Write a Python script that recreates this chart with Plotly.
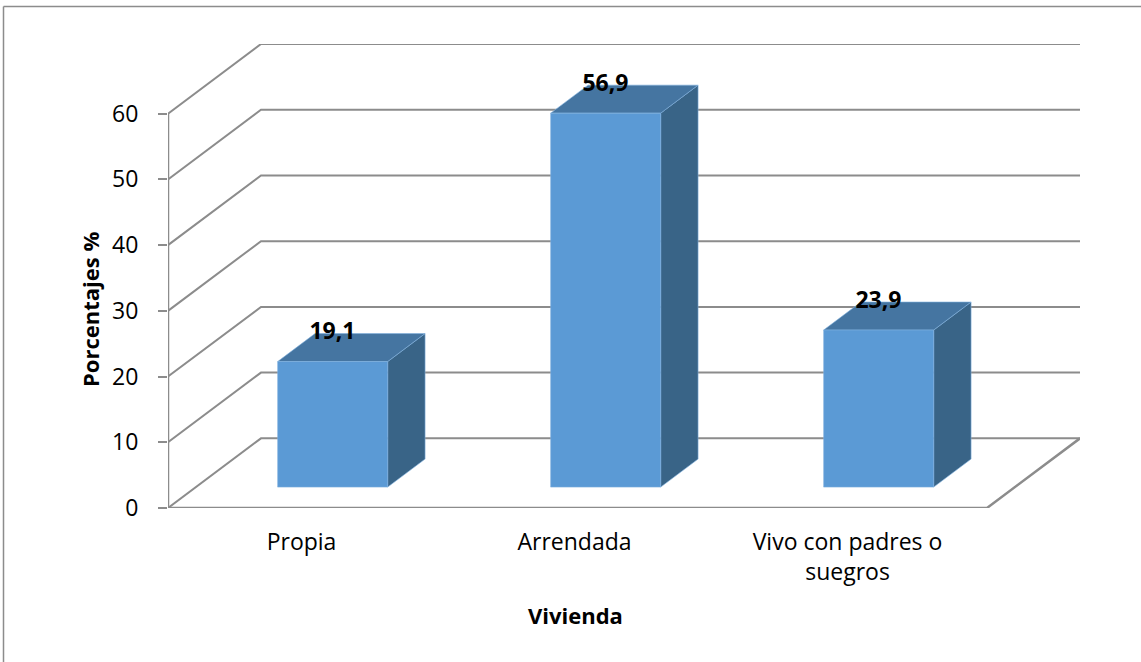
import plotly.graph_objects as go

categories = ["Propia", "Arrendada", "Vivo con padres o<br>suegros"]
values = [19.1, 56.9, 23.9]
value_labels = ["19,1", "56,9", "23,9"]
y_ticks = [0, 10, 20, 30, 40, 50, 60]
y_title = "Porcentajes %"
x_title = "Vivienda"

FONT = "Open Sans"
GRID = "#8c8c8c"
FRONT, TOP, SIDE = "#5B9AD5", "#4575A1", "#396487"

# oblique projection of the depth axis, in axis units per full depth
DEPTH_X = 93 / 273
DEPTH_Y = 10.6
BAR_W = 0.403
BAR_SHIFT = 0.001
Z0, Z1 = 0.30, 0.702
X_LEFT, X_RIGHT = -0.5, 2.5


def proj(x, y, z):
    return x + z * DEPTH_X, y + z * DEPTH_Y


def poly(points, color):
    xs, ys = zip(*points)
    return go.Scatter(x=list(xs) + [xs[0]], y=list(ys) + [ys[0]], mode="lines", fill="toself",
                      fillcolor=color, line=dict(color="#7fb0dd", width=0.6),
                      hoverinfo="skip", showlegend=False, cliponaxis=False)


def wire(points, width=2):
    xs, ys = zip(*points)
    return go.Scatter(x=list(xs), y=list(ys), mode="lines", line=dict(color=GRID, width=width),
                      hoverinfo="skip", showlegend=False, cliponaxis=False)


fig = go.Figure()

for t in y_ticks:
    fig.add_trace(wire([proj(X_LEFT, t, 0), proj(X_LEFT, t, 1), proj(X_RIGHT, t, 1)]))
fig.add_trace(wire([proj(X_LEFT, 0, 0), proj(X_LEFT, y_ticks[-1], 0)], 2.5))
fig.add_trace(wire([proj(X_LEFT, 0, 0), proj(X_RIGHT, 0, 0), proj(X_RIGHT, 0, 1)], 2.5))

for i, v in enumerate(values):
    a = i - BAR_W / 2 + BAR_SHIFT
    b = i + BAR_W / 2 + BAR_SHIFT
    fig.add_trace(poly([proj(b, 0, Z0), proj(b, 0, Z1), proj(b, v, Z1), proj(b, v, Z0)], SIDE))
    fig.add_trace(poly([proj(a, v, Z0), proj(b, v, Z0), proj(b, v, Z1), proj(a, v, Z1)], TOP))
    fig.add_trace(poly([proj(a, 0, Z0), proj(b, 0, Z0), proj(b, v, Z0), proj(a, v, Z0)], FRONT))

lx = [proj(i, v, Z0)[0] for i, v in enumerate(values)]
ly = [proj(i, v, Z1)[1] for i, v in enumerate(values)]
fig.add_trace(go.Scatter(x=lx, y=ly, mode="text", text=value_labels,
                         textposition="middle center", cliponaxis=False,
                         textfont=dict(family=FONT, size=23, color="black", weight="bold"),
                         hoverinfo="skip", showlegend=False))

fig.update_layout(
    width=1141, height=662, autosize=False,
    margin=dict(l=168, r=61, t=44, b=154, pad=0),
    paper_bgcolor="white", plot_bgcolor="white", showlegend=False,
    font=dict(family=FONT, color="black"),
    xaxis=dict(range=[X_LEFT, X_RIGHT + DEPTH_X], tickmode="array", tickvals=[0, 1, 2], ticktext=categories,
               showgrid=False, zeroline=False, showline=False, ticks="outside", ticklen=13,
               tickcolor="rgba(0,0,0,0)", tickfont=dict(size=23, family=FONT), ticklabelshift=-3),
    yaxis=dict(range=[0, y_ticks[-1] + DEPTH_Y], tickmode="array", tickvals=y_ticks,
               showgrid=False, zeroline=False, showline=False, ticks="outside", ticklen=9, tickwidth=1.5,
               tickcolor=GRID, tickfont=dict(size=23, family=FONT), ticklabelstandoff=15),
    shapes=[
        dict(type="line", xref="paper", yref="paper", x0=-164.5 / 912, x1=973 / 912, y0=(508 - 6.5) / 464, y1=(508 - 6.5) / 464,
             line=dict(color=GRID, width=1.5)),
        dict(type="line", xref="paper", yref="paper", x0=-164.5 / 912, x1=-164.5 / 912, y0=(508 - 6.5) / 464, y1=-154 / 464,
             line=dict(color=GRID, width=1.5)),
    ],
    annotations=[
        dict(text=f"<b>{y_title}</b>", xref="paper", yref="paper", x=(90 - 168) / 912, y=(508 - 310) / 464,
             textangle=-90, showarrow=False, font=dict(size=22, family=FONT), xanchor="center", yanchor="middle"),
        dict(text=f"<b>{x_title}</b>", xref="paper", yref="paper", x=(575 - 168) / 912, y=(508 - 615) / 464,
             showarrow=False, font=dict(size=22, family=FONT), xanchor="center", yanchor="middle"),
    ],
)

fig.write_html("out.html", config=dict(displayModeBar=False),
               post_script="document.body.style.margin='0';document.documentElement.style.overflow='hidden';")
